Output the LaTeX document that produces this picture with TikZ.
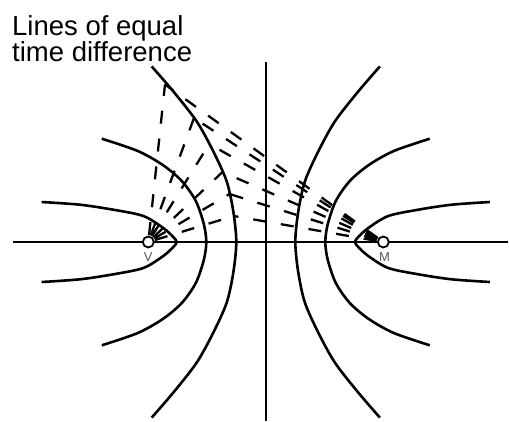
\documentclass[tikz,border=0pt]{standalone}
\usepackage{fontspec}
\setmainfont{Liberation Sans}

\tikzset{
  curve/.style={line width=2.6pt},
  axis/.style={line width=2.5pt},
  ray/.style={line width=2.3pt, dash pattern=on 13pt off 15pt, dash phase=21pt},
  focus/.style={circle, draw, fill=white, line width=1.8pt, inner sep=0pt, minimum size=11pt},
  flabel/.style={text=black!65, font=\fontsize{13}{14}\selectfont, inner sep=0pt}
}

\begin{document}
\begin{tikzpicture}[x=1pt,y=-1pt]
 \useasboundingbox (0,0) rectangle (509,421);

 % axes
 \draw[axis] (13,242) -- (508,242);
 \draw[axis] (265.8,62) -- (265.8,421);

 % branches, the right ones mirrored
 \foreach \s in {1,-1}{
 \begin{scope}[shift={(265.8,242)},xscale=\s]
   \draw[curve] plot[smooth] coordinates {(-114.1,-175.6) (-92.5,-150.6) (-69.1,-120.6) (-52.5,-90.6) (-39.1,-60.6) (-32.5,-30.6) (-29.5,0)
      (-32.5,30.6) (-39.1,60.6) (-52.5,90.6) (-69.1,120.6) (-92.5,150.6) (-114.1,175.6)};
   \draw[curve] plot[smooth] coordinates {(-164,-103.3) (-128,-91) (-103,-77) (-84,-61) (-70,-41) (-62,-18) (-59.5,0)
      (-62,18) (-70,41) (-84,61) (-103,77) (-128,91) (-164,103.3)};
   \draw[curve] plot[smooth] coordinates {(-224.1,-40) (-185.8,-37.3) (-152.5,-32.3) (-122.5,-26) (-102.5,-14) (-92.5,-5) (-89.1,0)
      (-92.5,5) (-102.5,14) (-122.5,26) (-152.5,32.3) (-185.8,37.3) (-224.1,40)};
 \end{scope}}

 % points of equal time difference
 \coordinate (fv) at (148.3,242);
 \coordinate (fm) at (383.3,242);
 \coordinate (p1) at (165,84.5);
 \coordinate (p2) at (194,118);
 \coordinate (p3) at (209.2,144);
 \coordinate (p4) at (222.5,172);
 \coordinate (p5) at (229.5,194);
 \coordinate (p6) at (233.8,216);

 \foreach \p in {1,...,6}{
   \draw[ray] (fv) -- (p\p);
   \draw[ray] (fm) -- (p\p);
 }

 \node[focus] (V) at (fv) {};
 \node[focus] (M) at (fm) {};
 \node[flabel] (vlab) at (148.3,257) {V};
 \node[flabel] (mlab) at (384.5,257.5) {M};

 \node[anchor=north west, align=left, inner sep=0pt, font=\fontsize{27.5}{26.7}\selectfont] (title) at (12,15) {Lines of equal\\time difference};
\end{tikzpicture}
\end{document}
